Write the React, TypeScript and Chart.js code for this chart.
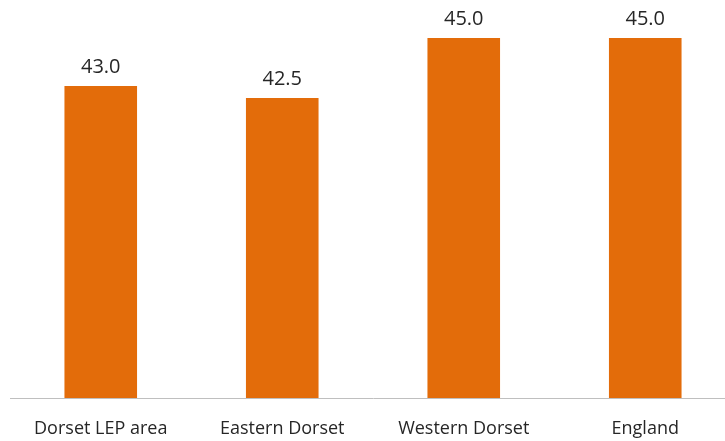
import React, { useEffect, useRef } from "react";
import { Chart, registerables } from "chart.js";

Chart.register(...registerables);

const categories = ["Dorset LEP area", "Eastern Dorset", "Western Dorset", "England"];
const values = [43.0, 42.5, 45.0, 45.0];

const valueLabels = {
  id: "valueLabels",
  afterDatasetsDraw(chart: any) {
    const ctx = chart.ctx;
    const meta = chart.getDatasetMeta(0);
    ctx.save();
    ctx.font = "20px 'Open Sans'";
    ctx.fillStyle = "#262626";
    ctx.textAlign = "center";
    ctx.textBaseline = "middle";
    meta.data.forEach((bar: any, i: number) => {
      ctx.fillText(values[i].toFixed(1), bar.x, bar.y - 19);
    });
    ctx.restore();
  },
};

export default function App() {
  const ref = useRef<HTMLCanvasElement>(null);
  useEffect(() => {
    const chart = new Chart(ref.current!, {
      type: "bar",
      data: {
        labels: categories,
        datasets: [
          {
            data: values,
            backgroundColor: "#E36C0A",
            categoryPercentage: 1,
            barPercentage: 0.4,
          },
        ],
      },
      options: {
        animation: false,
        responsive: false,
        maintainAspectRatio: false,
        layout: { padding: { left: 10, right: 0, top: 2, bottom: 0 } },
        plugins: { legend: { display: false }, tooltip: { enabled: false } },
        scales: {
          x: {
            grid: { display: false },
            border: { display: true, color: "#bfbfbf", width: 1 },
            afterFit: (scale: any) => {
              scale.height = 43;
            },
            ticks: {
              color: "#262626",
              font: { family: "'Open Sans'", size: 18 },
              padding: 12,
              maxRotation: 0,
            },
          },
          y: {
            display: false,
            min: 30,
            max: 46.5,
          },
        },
      },
      plugins: [valueLabels],
    });
    return () => chart.destroy();
  }, []);
  return (
    <div style={{ position: "fixed", left: 0, top: 0, width: 725, height: 441, overflow: "hidden", background: "#fff" }}>
      <canvas ref={ref} width={736} height={441} style={{ display: "block" }} />
    </div>
  );
}
